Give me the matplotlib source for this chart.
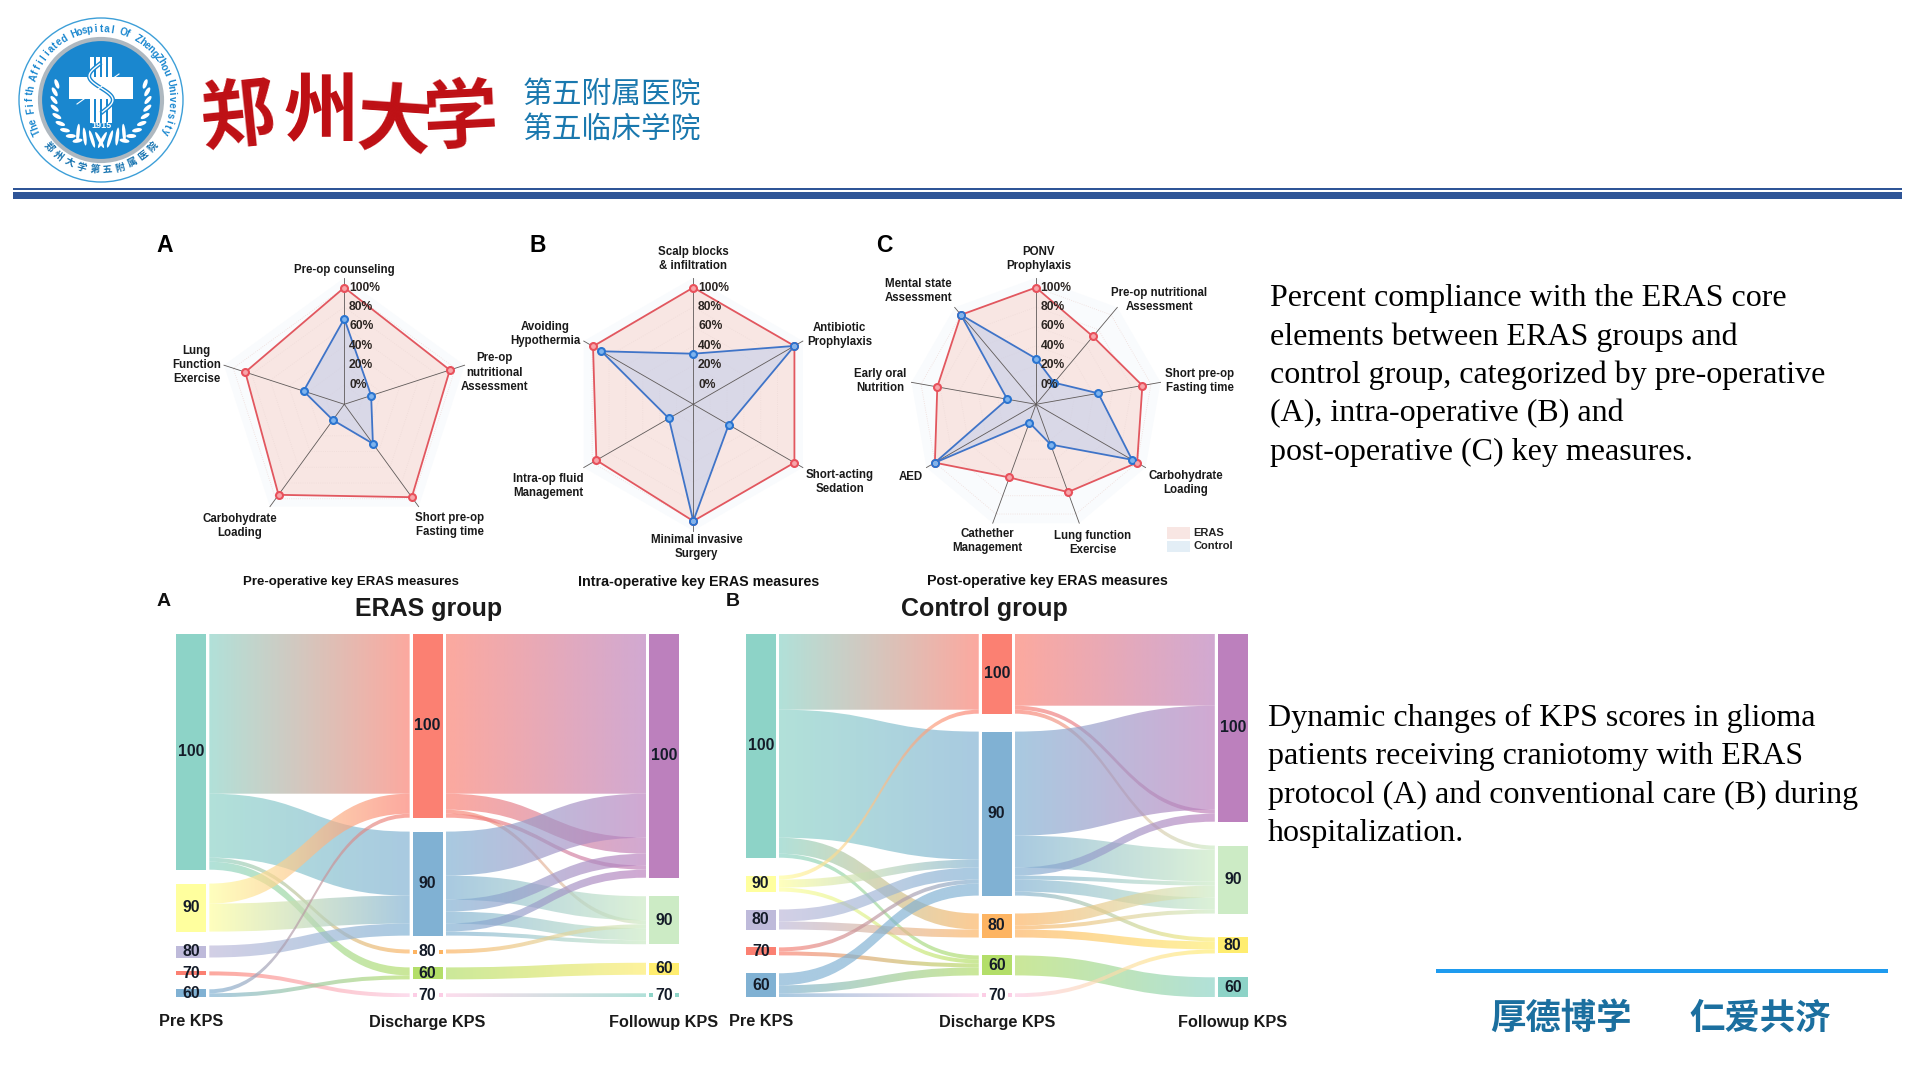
import numpy as np
import matplotlib
matplotlib.use('Agg')
import matplotlib.pyplot as plt
from matplotlib.patches import Circle, Ellipse, PathPatch, Rectangle
from matplotlib.path import Path
from matplotlib.colors import to_rgb

plt.rcParams['font.family'] = ['Liberation Sans', 'Noto Sans CJK SC', 'DejaVu Sans']

# radar data, percent compliance
pre_labels = ['Pre-op counseling', 'Pre-op\nnutritional\nAssessment', 'Short pre-op\nFasting time',
              'Carbohydrate\nLoading', 'Lung\nFunction\nExercise']
pre_eras = [100, 94, 98, 95, 87]
pre_control = [68, 9, 30, 0, 24]

intra_labels = ['Scalp blocks\n& infiltration', 'Antibiotic\nProphylaxis', 'Short-acting\nSedation',
                'Minimal invasive\nSurgery', 'Intra-op fluid\nManagement', 'Avoiding\nHypothermia']
intra_eras = [100, 100, 100, 100, 95, 99]
intra_control = [32, 100, 22, 100, 9, 89]

post_labels = ['PONV\nProphylaxis', 'Pre-op nutritional\nAssessment', 'Short pre-op\nFasting time',
               'Carbohydrate\nLoading', 'Lung function\nExercise', 'Cathether\nManagement', 'AED',
               'Early oral\nNutrition', 'Mental state\nAssessment']
post_eras = [100, 71, 91, 100, 76, 60, 100, 83, 100]
post_control = [27, 9, 45, 94, 24, 0, 100, 10, 100]

radar_ticks = [0, 20, 40, 60, 80, 100]

# sankey data, number of patients per KPS level
eras_nodes = [[(100, 59), (90, 12), (80, 3), (70, 1), (60, 2)],
              [(100, 46), (90, 26), (80, 1), (60, 3), (70, 1)],
              [(100, 61), (90, 12), (60, 3), (70, 1)]]
eras_flow_1 = [(100, 100, 40), (100, 90, 16), (100, 80, 1), (100, 60, 2), (90, 100, 5), (90, 90, 7),
               (80, 90, 3), (70, 70, 1), (60, 100, 1), (60, 60, 1)]
eras_flow_2 = [(100, 100, 40), (100, 100, 4), (100, 90, 1), (100, 100, 1), (90, 100, 11), (90, 90, 6),
               (90, 100, 3), (90, 90, 3), (90, 100, 2), (90, 90, 1), (80, 90, 1), (60, 60, 3), (70, 70, 1)]
eras_order_2 = [0, 4, 1, 6, 3, 8, 5, 2, 10, 7, 9, 11, 12]

ctrl_nodes = [[(100, 56), (90, 4), (80, 5), (70, 2), (60, 6)],
              [(100, 20), (90, 41), (80, 6), (60, 5), (70, 1)],
              [(100, 47), (90, 17), (80, 4), (60, 5)]]
ctrl_flow_1 = [(100, 100, 19), (100, 90, 32), (100, 80, 4), (100, 60, 1), (90, 100, 1), (90, 90, 2), (90, 60, 1),
               (80, 90, 3), (80, 80, 2), (70, 90, 1), (70, 60, 1), (60, 90, 3), (60, 60, 2), (60, 70, 1)]
ctrl_flow_2 = [(100, 100, 18), (100, 100, 1), (100, 90, 1), (90, 100, 26), (90, 90, 8), (90, 100, 2), (90, 90, 1),
               (90, 90, 3), (90, 80, 1), (80, 90, 3), (80, 90, 1), (80, 80, 2), (60, 60, 5), (70, 80, 1)]
ctrl_order_2 = [0, 3, 1, 5, 2, 4, 6, 9, 7, 10, 8, 11, 13, 12]

# Set3 style colours for each column
col_pre = {100: '#8DD3C7', 90: '#FFFF9E', 80: '#BEBADA', 70: '#FB8072', 60: '#80B1D3'}
col_dis = {100: '#FB8072', 90: '#80B1D3', 80: '#FDB462', 60: '#B3DE69', 70: '#FCCDE5'}
col_eras_fu = {100: '#BC80BD', 90: '#CCEBC5', 60: '#FFED6F', 70: '#8DD3C7'}
col_ctrl_fu = {100: '#BC80BD', 90: '#CCEBC5', 80: '#FFED6F', 60: '#8DD3C7'}

W, H = 1920, 1080
fig = plt.figure(figsize=(19.2, 10.8), dpi=100, facecolor='white')
page = fig.add_axes([0, 0, 1, 1])
page.set_xlim(0, W)
page.set_ylim(H, 0)
page.axis('off')


def px_axes(x0, y0, x1, y1, **kw):
    ax = fig.add_axes([x0 / W, 1 - y1 / H, (x1 - x0) / W, (y1 - y0) / H], **kw)
    return ax


# ---------- header ----------
def draw_logo(cx, cy):
    blue = '#1A87CF'
    page.add_patch(Circle((cx, cy), 82, fc='white', ec='#3D9FD8', lw=1.0))
    page.add_patch(Circle((cx, cy), 61, fc=blue, ec='#AEB8C0', lw=3))
    # ring text
    top = 'The Fifth Affiliated Hospital Of ZhengZhou University'
    for ch, a in zip(top, np.linspace(-116, 116, len(top))):
        t = np.radians(a)
        page.text(cx + 71 * np.sin(t), cy - 71 * np.cos(t), ch, rotation=-a, rotation_mode='anchor',
                  ha='center', va='center', fontsize=7, fontweight='bold', color=blue)
    bottom = '郑州大学第五附属医院'
    for ch, a in zip(bottom, np.linspace(-48, 48, len(bottom))):
        t = np.radians(a)
        page.text(cx + 70 * np.sin(t), cy + 70 * np.cos(t), ch, rotation=a, rotation_mode='anchor',
                  ha='center', va='center', fontsize=7, fontweight='bold', color='#1673B0')
    # cross with stripes
    for dx in [-9, -3, 3, 9]:
        page.add_patch(Rectangle((cx + dx - 2, cy - 43), 4, 66, fc='white', ec='none'))
    page.add_patch(Rectangle((cx - 32, cy - 23), 64, 22, fc='white', ec='none'))
    s = np.linspace(-1, 1, 60)
    page.plot(cx + 10 * np.sin(s * 3.4) + s * 4, cy - 12 + s * 24, color=blue, lw=3)
    page.plot(cx + 10 * np.sin(s * 3.4) + s * 4, cy - 12 + s * 24, color='white', lw=1)
    page.plot([cx - 24, cx + 18], [cy + 4, cy - 26], color='white', lw=0.8)
    page.text(cx, cy + 26, '1915', color='white', fontsize=6.5, fontweight='bold', ha='center', va='center')
    # laurel
    for side in [-1, 1]:
        for a in np.linspace(70, 150, 9):
            t = np.radians(a)
            page.add_patch(Ellipse((cx + side * 47 * np.sin(t), cy - 47 * np.cos(t)), 10, 4,
                                   angle=side * (a + 40), fc='white', ec='none'))
        for a in np.linspace(145, 178, 4):
            t = np.radians(a)
            page.add_patch(Ellipse((cx + side * 40 * np.sin(t), cy - 40 * np.cos(t)), 18, 3.5,
                                   angle=side * (a - 60), fc='white', ec='none'))


draw_logo(101, 100)

for ch, x, y, rot in zip('郑州大学', [238, 321, 393, 461], [120, 116, 126, 120], [6, 0, -4, 3]):
    page.text(x, y, ch, fontsize=54, fontweight='bold', color='#BE0F14', ha='center', va='center', rotation=rot)
page.text(612, 95, '第五附属医院', fontsize=21.4, color='#1A78AE', ha='center', va='center')
page.text(612, 130, '第五临床学院', fontsize=21.4, color='#1A78AE', ha='center', va='center')
page.add_patch(Rectangle((13, 188.3), 1889, 2, fc='#2F5597', ec='none'))
page.add_patch(Rectangle((13, 192.3), 1889, 7, fc='#2F5597', ec='none'))


# ---------- radars ----------
def radar(cx, cy, labels, eras, control, label_xy, title, title_xy, title_size, letter, letter_xy):
    R = 126.5
    ax = px_axes(cx - R, cy - R, cx + R, cy + R, projection='polar')
    ax.set_theta_zero_location('N')
    ax.set_theta_direction(-1)
    ax.set_ylim(-20, 110)
    ax.axis('off')
    n = len(labels)
    th = np.arange(n) * 2 * np.pi / n
    thc = np.append(th, th[0])
    ax.fill(thc, [110] * (n + 1), color='#F9FBFD', lw=0, zorder=1)
    ax.fill(thc, eras + eras[:1], color='#F8E6E3', lw=0, zorder=2)
    for v in radar_ticks:
        ax.plot(thc, [v] * (n + 1), color='#EFDCD9', lw=0.6, ls=':', zorder=3)
    ax.fill(thc, control + control[:1], color='#C5CFEA', alpha=0.6, lw=0, zorder=3)
    for t in th:
        ax.plot([t, t], [-20, 110], color='#5F5A59', lw=0.6, zorder=4, clip_on=False)
    ax.plot(thc, eras + eras[:1], color='#E2575F', lw=1.3, zorder=5)
    ax.plot(thc, control + control[:1], color='#3F74C8', lw=1.3, zorder=6)
    ax.scatter(th, eras, s=30, color='#E8505B', zorder=7, clip_on=False)
    ax.scatter(th, control, s=30, color='#2A74D0', zorder=8, clip_on=False)
    ax.scatter(th, eras, s=6, color='#F7A6AB', zorder=8, clip_on=False)
    ax.scatter(th, control, s=6, color='#7FB4EE', zorder=9, clip_on=False)
    for v in radar_ticks:
        ax.annotate(f'{v}%', (0, v), xytext=(3.4, 0), textcoords='offset points', ha='left', va='center',
                    fontsize=8.7, fontweight='bold', color='#2B2522', zorder=10)
    for lab, (x, y) in zip(labels, label_xy):
        page.text(x, y, lab, fontsize=8.3, fontweight='bold', color='#1A1A1A', ha='center', va='center',
                  linespacing=1.25)
    page.text(title_xy[0], title_xy[1], title, fontsize=title_size, fontweight='bold', color='#111111',
              ha='center', va='center')
    page.text(letter_xy[0], letter_xy[1], letter, fontsize=16.5, fontweight='bold', color='black',
              ha='center', va='center')


def zoom_xy(points, ox, oy=221):
    return [(ox + a / 3, oy + b / 3) for a, b in points]


radar(344.3, 404.3, pre_labels, pre_eras, pre_control,
      zoom_xy([(583, 148), (1033, 455), (900, 913), (268, 915), (140, 432)], 150),
      'Pre-operative key ERAS measures', (351, 582), 9.5, 'A', (165, 245))
radar(693.3, 404.3, intra_labels, intra_eras, intra_control,
      zoom_xy([(550, 114), (988, 341), (990, 784), (560, 977), (114, 796), (106, 338)], 510),
      'Intra-operative key ERAS measures', (699, 582), 10.3, 'B', (538, 245))
radar(1036, 404.3, post_labels, post_eras, post_control,
      zoom_xy([(536, 113), (898, 236), (1020, 479), (978, 787), (698, 965), (383, 960), (153, 767), (62, 480),
               (175, 211)], 860),
      'Post-operative key ERAS measures', (1047, 581), 10.3, 'C', (884, 245))

page.add_patch(Rectangle((1167, 527), 23, 12, fc='#F8E6E3', ec='none'))
page.add_patch(Rectangle((1167, 541), 23, 11, fc='#E3EEF6', ec='none'))
page.text(1193, 533, 'ERAS', fontsize=8, fontweight='bold', color='#222222', va='center')
page.text(1193, 546, 'Control', fontsize=8, fontweight='bold', color='#222222', va='center')


# ---------- sankey ----------
def stack_nodes(levels, total_h):
    # nodes share the column height, what is left over goes to the gaps
    gap = (total_h - sum(n for _, n in levels)) / (len(levels) - 1)
    pos = {}
    y = 0
    for lev, n in levels:
        pos[lev] = y
        y += n + gap
    return pos


def ribbon(ax, x0, x1, y0, y1, n, c0, c1):
    xm = (x0 + x1) / 2
    verts = [(x0, y0), (xm, y0), (xm, y1), (x1, y1), (x1, y1 + n), (xm, y1 + n), (xm, y0 + n), (x0, y0 + n), (x0, y0)]
    codes = [Path.MOVETO, Path.CURVE4, Path.CURVE4, Path.CURVE4, Path.LINETO, Path.CURVE4, Path.CURVE4, Path.CURVE4,
             Path.CLOSEPOLY]
    patch = PathPatch(Path(verts, codes), fc='none', ec='none')
    ax.add_patch(patch)
    grad = np.zeros((1, 128, 4))
    grad[0, :, :3] = np.linspace(to_rgb(c0), to_rgb(c1), 128)
    grad[0, :, 3] = 0.68
    im = ax.imshow(grad, extent=(x0, x1, 100, -1), aspect='auto', zorder=2, interpolation='bilinear')
    im.set_clip_path(patch)


def sankey(box, nodes, flows, orders, colors, title, title_xy, letter, letter_xy, xlabels):
    cx0, cx2, y0, y1 = box
    half = 15
    col_w = cx2 - cx0
    units = col_w / 2
    hh = (y1 - y0) / 4.0  # 12 zoom px per patient = 4 px
    ax = px_axes(cx0 - half, y0, cx2 + half, y1)
    ax.patch.set_alpha(0)
    w = 2 * half / units
    ax.axis('off')
    tops = [stack_nodes(col, hh) for col in nodes]
    pad = 3 / units
    for i in range(2):
        src_y = dict(tops[i])
        dst_y = dict(tops[i + 1])
        starts = []
        for s, d, n in flows[i]:
            starts.append(src_y[s])
            src_y[s] += n
        ends = [0] * len(flows[i])
        for k in orders[i]:
            s, d, n = flows[i][k]
            ends[k] = dst_y[d]
            dst_y[d] += n
        for (s, d, n), a, b in zip(flows[i], starts, ends):
            ribbon(ax, i + w / 2 + pad, i + 1 - w / 2 - pad, a, b, n, colors[i][s], colors[i + 1][d])
    for i, col in enumerate(nodes):
        for lev, n in col:
            ax.bar(i, n, bottom=tops[i][lev], width=w, color=colors[i][lev], zorder=3)
            box_kw = {}
            if i > 0 and n == 1:
                box_kw = dict(bbox=dict(fc='white', ec='none', pad=1.5))
            ax.text(i, tops[i][lev] + n / 2, str(lev), fontsize=11.4, fontweight='bold', color='#141B28',
                    ha='center', va='center', zorder=4, **box_kw)
    ax.set_xlim(-w / 2, 2 + w / 2)
    ax.set_ylim(hh, 0)
    for x, lab in zip([cx0, (cx0 + cx2) / 2, cx2], xlabels):
        page.text(x, 1022, lab, fontsize=11.7, fontweight='bold', color='#1A1A1A', ha='center', va='center')
    page.text(title_xy[0], title_xy[1], title, fontsize=18, fontweight='bold', color='#1A1A1A',
              ha='center', va='center')
    page.text(letter_xy[0], letter_xy[1], letter, fontsize=14, fontweight='bold', color='#111111',
              ha='center', va='center')


kps_names = ['Pre KPS', 'Discharge KPS', 'Followup KPS']
sankey((191.3, 664, 633.7, 997.3), eras_nodes, [eras_flow_1, eras_flow_2],
       [list(range(len(eras_flow_1))), eras_order_2], [col_pre, col_dis, col_eras_fu],
       'ERAS group', (429, 609), 'A', (164, 602), kps_names)
sankey((760.7, 1232.8, 633.7, 997.3), ctrl_nodes, [ctrl_flow_1, ctrl_flow_2],
       [list(range(len(ctrl_flow_1))), ctrl_order_2], [col_pre, col_dis, col_ctrl_fu],
       'Control group', (984, 609), 'B', (733, 602), kps_names)

# ---------- side text ----------
text_a = ['Percent compliance with the ERAS core', 'elements between ERAS groups and',
          'control group, categorized by pre-operative', '(A), intra-operative (B) and',
          'post-operative (C) key measures.']
text_b = ['Dynamic changes of KPS scores in glioma', 'patients receiving craniotomy with ERAS',
          'protocol (A) and conventional care (B) during', 'hospitalization.']
for line, y in zip(text_a, [306, 344.5, 383, 421.5, 460]):
    page.text(1269.5, y, line, fontsize=23, family='Liberation Serif', color='black', va='baseline')
for line, y in zip(text_b, [726, 764.3, 802.7, 841]):
    page.text(1267.5, y, line, fontsize=23, family='Liberation Serif', color='black', va='baseline')

# ---------- footer ----------
page.add_patch(Rectangle((1435.5, 969), 452.5, 4, fc='#1E9BEF', ec='none'))
page.text(1561, 1019, '厚德博学', fontsize=25.5, fontweight='bold', color='#1B6F9F', ha='center', va='center')
page.text(1760, 1019, '仁爱共济', fontsize=25.5, fontweight='bold', color='#1B6F9F', ha='center', va='center')

fig.savefig('out.png', dpi=100)
